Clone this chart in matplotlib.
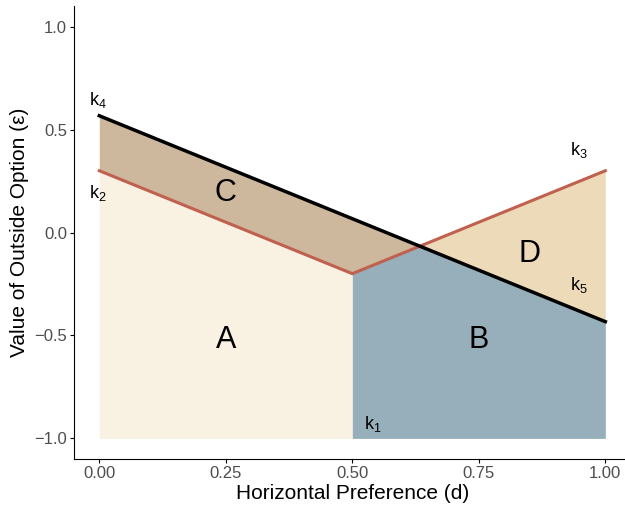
import numpy as np
import matplotlib
matplotlib.use("Agg")
import matplotlib.pyplot as plt

plt.rcParams["font.family"] = ["Liberation Sans", "DejaVu Sans"]
plt.rcParams["mathtext.fontset"] = "custom"
plt.rcParams["mathtext.rm"] = "Liberation Sans"

# boundary lines
d_black = [0.0, 1.0]
eps_black = [0.567, -0.433]          # k4 -> k5
d_red = [0.0, 0.5, 1.0]
eps_red = [0.3, -0.2, 0.3]           # k2 -> k1 -> k3
d_cross = 0.633                      # where red and black meet
eps_cross = -0.067
eps_floor = -1.0

# region labels
region_names = ["A", "B", "C", "D"]
region_x = [0.25, 0.75, 0.25, 0.85]
region_y = [-0.52, -0.52, 0.19, -0.105]

# point labels
k_names = ["$\\mathrm{k_1}$", "$\\mathrm{k_2}$", "$\\mathrm{k_3}$", "$\\mathrm{k_4}$", "$\\mathrm{k_5}$"]
k_x = [0.54, -0.002, 0.948, -0.002, 0.948]
k_y = [-0.93, 0.19, 0.40, 0.645, -0.255]

col_A = "#f9f1e2"
col_B = "#97afba"
col_C = "#cdb79d"
col_D = "#eddab8"
col_red = "#c0604f"

fig = plt.figure(figsize=(6.25, 5.05), dpi=100)
ax = fig.add_axes([0.1184, 0.0911, 0.8906, 0.897])

# A: under red line, left half
ax.fill_between(d_red[:2], eps_red[:2], eps_floor, color=col_A, lw=0)
# B: under min(red, black), right half
xb = [0.5, d_cross, 1.0]
yb = [eps_red[1], eps_cross, eps_black[1]]
ax.fill_between(xb, yb, eps_floor, color=col_B, lw=0)
# C: between red and black, left of crossing
xc = [0.0, 0.5, d_cross]
yc_top = [eps_black[0], np.interp(0.5, d_black, eps_black), eps_cross]
yc_bot = [eps_red[0], eps_red[1], eps_cross]
ax.fill_between(xc, yc_top, yc_bot, color=col_C, lw=0)
# D: between black and red, right of crossing
xd = [d_cross, 1.0]
ax.fill_between(xd, [eps_cross, eps_red[2]], [eps_cross, eps_black[1]], color=col_D, lw=0)

ax.plot(d_red, eps_red, color=col_red, lw=2.2, solid_joinstyle="miter")
ax.plot(d_black, eps_black, color="black", lw=2.5)

for n, x, y in zip(region_names, region_x, region_y):
    ax.text(x, y, n, fontsize=22, ha="center", va="center")
for n, x, y in zip(k_names, k_x, k_y):
    ax.text(x, y, n, fontsize=13, ha="center", va="center")

ax.set_xlim(-0.05, 1.05)
ax.set_ylim(-1.1, 1.1)
ax.set_xticks([0, 0.25, 0.5, 0.75, 1.0])
ax.set_xticklabels(["0.00", "0.25", "0.50", "0.75", "1.00"])
ax.set_yticks([-1.0, -0.5, 0.0, 0.5, 1.0])
ax.set_yticklabels(["\u22121.0", "\u22120.5", "0.0", "0.5", "1.0"])
ax.tick_params(labelsize=12, labelcolor="#4d4d4d", length=3, width=0.8, pad=2)
ax.spines["top"].set_visible(False)
ax.spines["right"].set_visible(False)
ax.set_xlabel("Horizontal Preference (d)", fontsize=15, labelpad=2)
ax.set_ylabel("Value of Outside Option (\u03b5)", fontsize=15, labelpad=4)

fig.savefig("out.png", dpi=100)
